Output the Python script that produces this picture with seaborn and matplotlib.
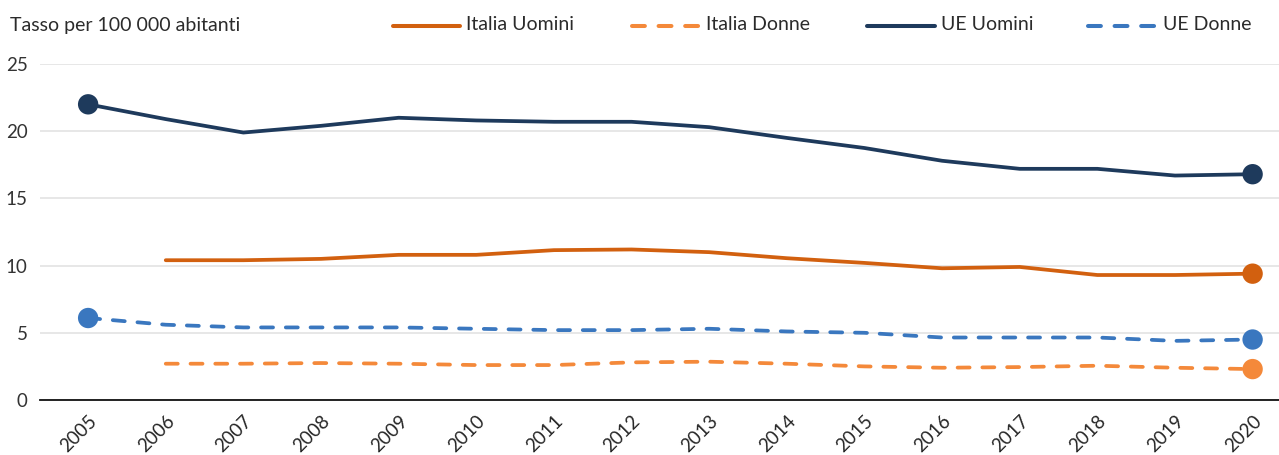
import numpy as np
import pandas as pd
import matplotlib
matplotlib.use("Agg")
import matplotlib.pyplot as plt
from matplotlib.lines import Line2D
import seaborn as sns

years = list(range(2005, 2021))
italia_uomini = [np.nan, 10.4, 10.4, 10.5, 10.8, 10.8, 11.15, 11.2, 11.0, 10.55, 10.2, 9.8, 9.9, 9.3, 9.3, 9.4]
italia_donne = [np.nan, 2.7, 2.7, 2.75, 2.7, 2.6, 2.6, 2.8, 2.85, 2.7, 2.5, 2.4, 2.45, 2.55, 2.4, 2.3]
ue_uomini = [22.0, 20.9, 19.9, 20.4, 21.0, 20.8, 20.7, 20.7, 20.3, 19.5, 18.75, 17.8, 17.2, 17.2, 16.7, 16.8]
ue_donne = [6.1, 5.6, 5.4, 5.4, 5.4, 5.3, 5.2, 5.2, 5.3, 5.1, 5.0, 4.65, 4.65, 4.65, 4.4, 4.5]

series_names = ["Italia Uomini", "Italia Donne", "UE Uomini", "UE Donne"]
series_values = [italia_uomini, italia_donne, ue_uomini, ue_donne]
colors = ["#D2600F", "#F4893A", "#1E3A5C", "#3A77BF"]
dashed = [False, True, False, True]
DASH = (3.2, 3.4)

sns.set_theme(style="white")
plt.rcParams["font.family"] = ["Lato", "DejaVu Sans"]

W, H = 1279, 455
fig = plt.figure(figsize=(W / 100, H / 100), dpi=100)
ax = fig.add_axes([40 / W, 55 / H, 1 - 40 / W, 336 / H])

idx = np.arange(len(years))

for name, vals, col, dsh in zip(series_names, series_values, colors, dashed):
    df = pd.DataFrame({"x": idx, "y": vals}).dropna()
    sns.lineplot(data=df, x="x", y="y", ax=ax, color=col, linewidth=2.7,
                 legend=False)
    ln = ax.lines[-1]
    if dsh:
        ln.set_dashes(DASH)
    ln.set_solid_capstyle("round")
    ln.set_dash_capstyle("round")
    # endpoint markers: first year for complete series, last year for all
    pts = df.iloc[[-1]] if df["x"].iloc[0] != 0 else df.iloc[[0, -1]]
    sns.scatterplot(data=pts, x="x", y="y", ax=ax, color=col, s=215,
                    edgecolor="none", zorder=5, legend=False)

ax.set_xlim(-0.62, 15.34)
ax.set_ylim(0, 25)
ax.set_yticks([0, 5, 10, 15, 20, 25])
ax.set_xticks(idx)
ax.set_xticklabels([str(y) for y in years], rotation=45, ha="right",
                   rotation_mode="anchor")
ax.tick_params(axis="x", labelsize=13.5, colors="#262626", pad=9, length=0)
ax.tick_params(axis="y", labelsize=13.5, colors="#333333", pad=9, length=0)
ax.set_xlabel("")
ax.set_ylabel("")
ax.grid(axis="y", color="#e3e3e3", linewidth=1.2)
ax.set_axisbelow(True)
for s in ["top", "right", "left"]:
    ax.spines[s].set_visible(False)
ax.spines["bottom"].set_color("#111111")
ax.spines["bottom"].set_linewidth(1.3)

fig.text(10 / W, 1 - 25 / H, "Tasso per 100 000 abitanti", fontsize=14,
         color="#2b2b2b", va="center", ha="left")

# legend row across the top
legend_pos = [(393, 460), (632, 700), (867, 935), (1088, 1157)]
ly = 1 - 26 / H
for name, col, dsh, (x0, x1) in zip(series_names, colors, dashed, legend_pos):
    h = Line2D([x0 / W, x1 / W], [ly, ly], transform=fig.transFigure, color=col,
               linewidth=2.9, solid_capstyle="round", dash_capstyle="round")
    if dsh:
        h.set_dashes(DASH)
    fig.add_artist(h)
    fig.text((x1 + 6) / W, 1 - 25 / H, name, fontsize=14, color="#2b2b2b",
             va="center", ha="left")

fig.savefig("out.png", dpi=100)
